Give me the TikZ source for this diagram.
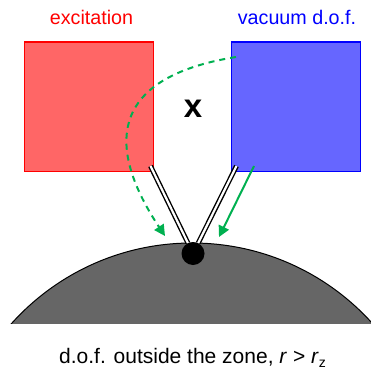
\documentclass[tikz,border=0pt]{standalone}
\usepackage{fontspec}
\setmainfont{Liberation Sans}
\usetikzlibrary{arrows.meta,positioning}

\begin{document}
\begin{tikzpicture}[x=1pt,y=-1pt,
    box/.style={draw,line width=1pt,minimum size=129pt,inner sep=0pt},
    label/.style={font=\fontsize{19.7}{22}\selectfont,inner sep=0pt},
    link/.style={line width=1.4pt,double=white,double distance=2.2pt},
    flow/.style={green1,line width=2pt,-{Triangle[length=11pt,width=11pt]}}]
    \definecolor{red1}{RGB}{255, 102, 102}
    \definecolor{blue1}{RGB}{102, 102, 255}
    \definecolor{green1}{RGB}{0, 176, 80}
    \definecolor{gray1}{RGB}{102, 102, 102}

    \useasboundingbox (0,0) rectangle (371,369);

    % the zone outside
    \begin{scope}
      \clip (0,0) rectangle (371,323);
      \fill [gray1] (192,485.5) circle [radius=242.5pt];
      \draw [line width=1pt] (192,485.5) circle [radius=242.5pt];
    \end{scope}

    \node [box,red,fill=red1] (exc) at (88.5,106.5) {};
    \node [box,blue,fill=blue1] (vac) at (296,106.5) {};

    \node [label,red,anchor=base] (exclabel) at (91.5,25) {excitation};
    \node [label,blue,anchor=base] (vaclabel) at (297,25) {vacuum d.o.f.};

    \node [font=\fontsize{33}{33}\selectfont\bfseries,anchor=base] (times) at (193,117) {x};

    \node [circle,fill=black,minimum size=23pt,inner sep=0pt] (dot) at (193,253.5) {};

    \coordinate (excend) at (150.5,166);
    \coordinate (vacend) at (236.5,166);
    \draw [link] (excend) -- (dot);
    \draw [link] (vacend) -- (dot);

    \coordinate (vacstart) at (254,166);
    \coordinate (vactip) at (219,237);
    \draw [flow] (vacstart) -- (vactip);

    \coordinate (curvestart) at (236,57);
    \coordinate (curvetip) at (165,236);
    \draw [flow,dash pattern=on 6pt off 5pt] (curvestart) .. controls (105,78) and (108,150) .. (curvetip);

    \node [label,font=\fontsize{21}{24}\selectfont,anchor=base] (zone) at (192.5,363) {d.o.f. outside the zone, \textit{r} > \textit{r}\raisebox{-4pt}{\fontsize{14}{14}\selectfont z}};
\end{tikzpicture}
\end{document}
